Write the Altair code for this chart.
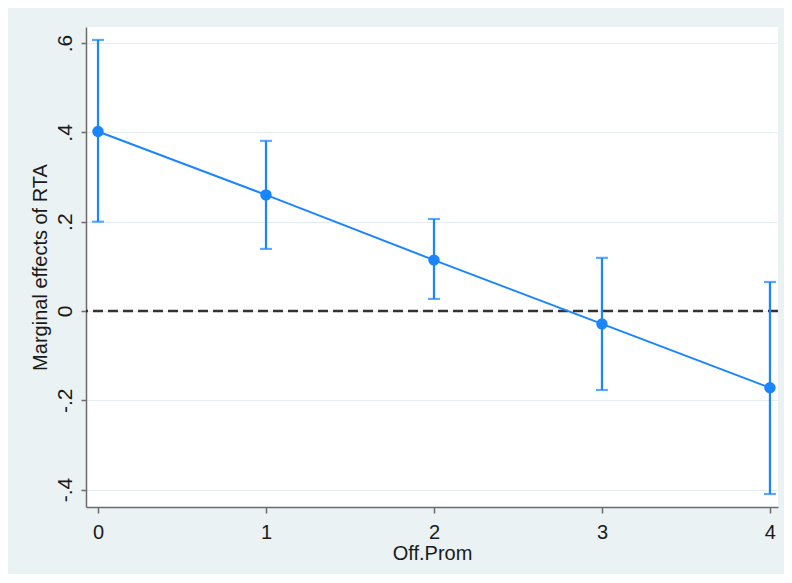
import altair as alt
import pandas as pd

# Data
off_prom = [0, 1, 2, 3, 4]
effect = [0.402, 0.260, 0.114, -0.029, -0.172]
lower = [0.200, 0.139, 0.027, -0.177, -0.410]
upper = [0.607, 0.381, 0.206, 0.119, 0.065]
x_ticks = [0, 1, 2, 3, 4]
y_ticks = [-0.4, -0.2, 0, 0.2, 0.4, 0.6]

df = pd.DataFrame({"x": off_prom, "y": effect, "lo": lower, "hi": upper})
zero_df = pd.DataFrame({"z": [0.0]})

BLUE = "#1A85FF"
BG = "#EAF2F3"
FONT = "Liberation Sans"
TXT = "#1a1a1a"

xscale = alt.Scale(domain=[-0.0714, 4.048], nice=False, zero=False)
yscale = alt.Scale(domain=[-0.439, 0.636], nice=False, zero=False)

x_axis = alt.Axis(
    values=x_ticks, title="Off.Prom", grid=False, format="d",
    labelFont=FONT, titleFont=FONT, labelFontSize=20, titleFontSize=20,
    titleFontWeight="normal", labelColor=TXT, titleColor=TXT,
    domainColor="#6b6b6b", domainWidth=1.5, tickColor="#6b6b6b", tickWidth=1.5,
    tickSize=6, labelPadding=9, titlePadding=1,
)
y_axis = alt.Axis(
    values=y_ticks, title="Marginal effects of RTA", grid=True,
    gridColor="#E3ECEE", gridWidth=1,
    labelExpr="datum.value == 0 ? '0' : (datum.value < 0 ? '-' : '') + replace(format(abs(datum.value), '.1f'), '0.', '.')",
    labelAngle=270, labelAlign="center", labelBaseline="bottom",
    labelFont=FONT, titleFont=FONT, labelFontSize=21, titleFontSize=20,
    titleFontWeight="normal", labelColor=TXT, titleColor=TXT,
    domainColor="#6b6b6b", domainWidth=1.5, tickColor="#6b6b6b", tickWidth=1.5,
    tickSize=5, labelPadding=6, titlePadding=4,
)

base = alt.Chart(df)

zero_line = alt.Chart(zero_df).mark_rule(
    color="#333333", strokeWidth=2.5, strokeDash=[10, 5]
).encode(y=alt.Y("z:Q", scale=yscale, axis=y_axis))

bars = base.mark_rule(color=BLUE, strokeWidth=2.2).encode(
    x=alt.X("x:Q", scale=xscale, axis=x_axis),
    y=alt.Y("lo:Q", scale=yscale, axis=y_axis),
    y2="hi:Q",
)
cap_lo = base.mark_tick(color=BLUE, orient="horizontal", size=12, thickness=2.2).encode(
    x=alt.X("x:Q", scale=xscale), y=alt.Y("lo:Q", scale=yscale)
)
cap_hi = base.mark_tick(color=BLUE, orient="horizontal", size=12, thickness=2.2).encode(
    x=alt.X("x:Q", scale=xscale), y=alt.Y("hi:Q", scale=yscale)
)
line = base.mark_line(color=BLUE, strokeWidth=2).encode(
    x=alt.X("x:Q", scale=xscale), y=alt.Y("y:Q", scale=yscale)
)
pts = base.mark_circle(color=BLUE, size=130, opacity=1).encode(
    x=alt.X("x:Q", scale=xscale), y=alt.Y("y:Q", scale=yscale)
)

chart = alt.layer(zero_line, bars, cap_lo, cap_hi, line, pts).properties(
    width=692, height=480,
    background=BG,
    padding={"left": 78, "top": 19, "right": 6, "bottom": 67},
    autosize=alt.AutoSizeParams(type="none"),
).configure_view(fill="white", stroke=None)

chart.save("out.html", embed_options={"renderer": "svg", "actions": False})
